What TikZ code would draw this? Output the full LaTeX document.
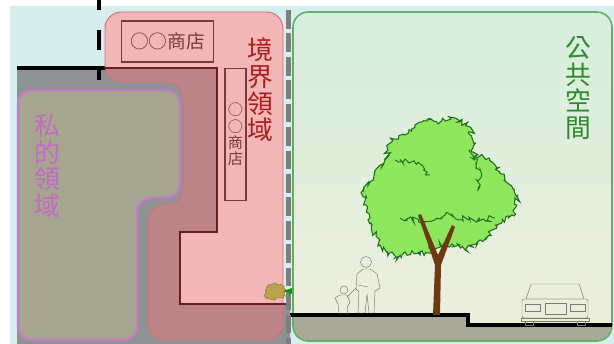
\documentclass[tikz,border=0pt]{standalone}
\usepackage{fontspec}
\newfontfamily\cjk{Noto Sans CJK TC}
\usepackage{tikz}
\usetikzlibrary{decorations.pathmorphing,positioning}

\definecolor{skyblue}{HTML}{D6EEEE}
\definecolor{bldgray}{HTML}{8F9292}
\definecolor{privfill}{HTML}{A6A58F}
\definecolor{privline}{HTML}{C77CC8}
\definecolor{privpurple}{HTML}{C46AC6}
\definecolor{zonepink}{HTML}{F2B6B6}
\definecolor{zonerose}{HTML}{BC8488}
\definecolor{zoneline}{HTML}{D0707A}
\definecolor{zonered}{HTML}{A8201C}
\definecolor{wallline}{HTML}{6A1E1E}
\definecolor{shopline}{HTML}{7A3A3A}
\definecolor{propgray}{HTML}{7E7E7E}
\definecolor{pubtop}{HTML}{D6EEDC}
\definecolor{pubbottom}{HTML}{EEEEDD}
\definecolor{publine}{HTML}{62AE62}
\definecolor{pubgreen}{HTML}{2E8A2E}
\definecolor{groundgray}{HTML}{A9A99A}
\definecolor{leafgreen}{HTML}{8EE65C}
\definecolor{leafline}{HTML}{1E6E1E}
\definecolor{barkbrown}{HTML}{6B3A12}
\definecolor{sketchgray}{HTML}{7A7A72}
\definecolor{bushcolor}{HTML}{B9A24A}

\newcommand\zonepath{(105,40) -- (105,12) -- (283,12) -- (283,340) -- (148,340) -- (148,205) -- (183,205) -- (183,82) -- (105,82) -- cycle}
\newcommand\bldpath{(17,68) -- (217,68) -- (217,232) -- (180,232) -- (180,304) -- (290,304) -- (290,344) -- (17,344) -- cycle}

\begin{document}
\begin{tikzpicture}[
        x=0.03cm, y=-0.03cm,
        vlabel/.style={align=center, inner sep=0pt, font=\cjk\fontsize{22}{22.8}\selectfont},
        shopbox/.style={draw=shopline, line width=1.1pt, align=center, inner sep=0pt, text=shopline},
        leafy/.style={decorate, decoration={random steps, segment length=1.8pt, amplitude=2.6pt}},
        sketch/.style={draw=sketchgray, line width=0.4pt, line join=round}
    ]
        \pgfmathsetseed{17}
        \useasboundingbox (0,0) rectangle (614,344);
        \fill[skyblue] (10,6) rectangle (614,344);

        % private side: building and ground
        \fill[bldgray] \bldpath;
        \draw[line width=2.6pt] (17,68) -- (217,68);
        \filldraw[fill=privfill, draw=privline, line width=2pt, rounded corners=12pt]
            (18,90) -- (180,90) -- (180,198) -- (137,198) -- (137,340) -- (18,340) -- cycle;

        % boundary zone
        \fill[zonepink, rounded corners=14pt] \zonepath;
        \begin{scope}
            \clip[rounded corners=14pt] \zonepath;
            \fill[zonerose] \bldpath;
        \end{scope}
        \draw[zoneline, line width=0.8pt, rounded corners=14pt] \zonepath;
        \draw[wallline, line width=2.5pt] (105,68) -- (217,68) -- (217,232) -- (180,232) -- (180,304) -- (287,304);

        \node[shopbox, minimum width=79pt, minimum height=35pt, font=\cjk\fontsize{16}{17}\selectfont] (shoptop) at (167.5,41.5) {○○商店};
        \node[shopbox, minimum width=18pt, minimum height=113pt, font=\cjk\fontsize{13}{13.8}\selectfont] (shopside) at (235.5,134.5) {○\\○\\商\\店};

        \draw[line width=3.4pt, dash pattern=on 17pt off 17pt, dash phase=8.5pt] (99,0) -- (99,80);

        % public side
        \shade[top color=pubtop, bottom color=pubbottom, rounded corners=13pt] (293,12) rectangle (612,341);
        \begin{scope}
            \clip[rounded corners=13pt] (293,12) rectangle (612,341);
            \fill[groundgray] (293,315) -- (468,315) -- (468,325) -- (612,325) -- (612,341) -- (293,341) -- cycle;
        \end{scope}
        \draw[publine, line width=1.3pt, rounded corners=13pt] (293,12) rectangle (612,341);
        \draw[line width=2.6pt] (290,315) -- (468,315) -- (468,325) -- (612,325);

        % property line
        \draw[propgray, line width=3.8pt, dash pattern=on 16pt off 4pt] (288.5,10) -- (288.5,344);

        % hedge at the boundary
        \filldraw[fill=bushcolor, draw=bushcolor!70!black, line width=0.3pt,
                  decorate, decoration={random steps, segment length=1.5pt, amplitude=1.2pt}]
            (264,296) -- (266,287) -- (273,283) -- (281,284) -- (286,290) -- (284,298) -- (272,300) -- cycle;
        \fill[green!60!black] (283,291) -- (292,288) -- (292,294) -- cycle;

        % tree
        \filldraw[fill=leafgreen, draw=leafline, line width=0.9pt, leafy]
            (415,125) -- (428,119) -- (440,122) -- (455,118) -- (470,127) -- (474,145) -- (472,152)
            -- (490,160) -- (500,172) -- (505,180) -- (518,195) -- (516,207) -- (512,215) -- (495,225)
            -- (488,236) -- (480,240) -- (465,250) -- (452,244) -- (440,245) -- (420,255) -- (405,252)
            -- (395,258) -- (380,245) -- (376,236) -- (372,225) -- (366,205) -- (363,190) -- (370,182)
            -- (375,172) -- (385,160) -- (388,150) -- (392,140) -- (405,135) -- cycle;
        \draw[leafline, line width=0.8pt, leafy] (395,160) -- (415,163) -- (430,175);
        \draw[leafline, line width=0.8pt, leafy] (400,218) -- (425,222) -- (445,215) -- (470,220) -- (495,218);
        \draw[leafline, line width=0.8pt, leafy] (470,150) -- (480,170) -- (478,190);
        \fill[barkbrown] (433,315) -- (435,265) -- (418,215) -- (421,214) -- (438,255) -- (452,225)
            -- (455,227) -- (441,265) -- (440,315) -- cycle;

        % people
        \draw[sketch] (366,262) circle (5.5);
        \draw[sketch] (358,313) -- (359,292) -- (356,289) -- (357,274) -- (363,269) -- (370,269) -- (377,274)
            -- (380,288) -- (375,291) -- (374,313) -- (369,313) -- (367,294) -- (365,313) -- cycle;
        \draw[sketch] (358,285) -- (368,287);
        \draw[sketch] (344,290) circle (4);
        \draw[sketch] (339,314) -- (338,304) -- (335,298) -- (340,295) -- (347,295) -- (350,302) -- (347,308)
            -- (348,314) -- cycle;
        \draw[sketch] (347,297) -- (356,288);

        % car
        \draw[sketch] (531,284) -- (579,284) -- (584,299) -- (526,299) -- cycle;
        \draw[sketch, rounded corners=2pt] (522,299) rectangle (588,318);
        \draw[sketch] (545,303) rectangle (566,314);
        \draw[sketch] (525,304) rectangle (540,311);
        \draw[sketch] (570,304) rectangle (585,311);
        \draw[sketch] (521,318) rectangle (589,321);
        \draw[sketch] (525,321) rectangle (533,325);
        \draw[sketch] (577,321) rectangle (585,325);

        % labels
        \node[vlabel, text=zonered] (zonelabel) at (260,90) {境\\界\\領\\域};
        \node[vlabel, text=pubgreen] (publabel) at (578,88) {公\\共\\空\\間};
        \node[vlabel, text=privpurple] (privlabel) at (47,166) {私\\的\\領\\域};
    \end{tikzpicture}
\end{document}
